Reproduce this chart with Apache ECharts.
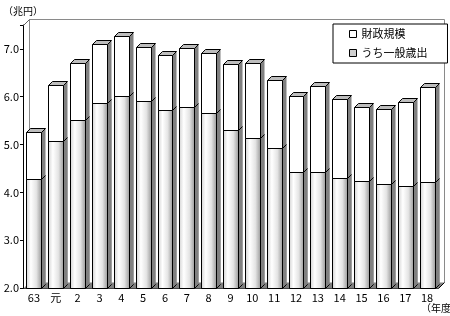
<!DOCTYPE html>
<html>
<head>
<meta charset="utf-8">
<script src="https://cdn.jsdelivr.net/npm/echarts@6/dist/echarts.min.js"></script>
<style>html,body{margin:0;padding:0;background:#fff}#c{width:450px;height:316px}</style>
</head>
<body>
<div id="c"></div>
<script>
const categories = ['63','元','2','3','4','5','6','7','8','9','10','11','12','13','14','15','16','17','18'];
const totalValues = [5.26,6.24,6.70,7.11,7.27,7.04,6.87,7.01,6.91,6.69,6.70,6.35,6.02,6.23,5.95,5.79,5.75,5.90,6.21];
const generalValues = [4.27,5.08,5.51,5.86,6.01,5.91,5.72,5.78,5.65,5.31,5.13,4.92,4.42,4.43,4.31,4.24,4.18,4.13,4.21];
const seriesNames = ['財政規模','うち一般歳出'];
const yMin = 2, yMax = 7.5, yStep = 1;

const FONT = '"Noto Sans CJK JP", "DejaVu Sans", sans-serif';
const chart = echarts.init(document.getElementById('c'), null, {renderer: 'canvas'});

const grad = new echarts.graphic.LinearGradient(0, 0, 1, 0, [
  {offset: 0, color: '#d2d2d2'},
  {offset: 0.3, color: '#ffffff'},
  {offset: 0.65, color: '#e4e4e4'},
  {offset: 1, color: '#969696'}
]);

function px(v) { return Math.round(v) + 0.5; }

function barShapes(api, value, fill, withTop) {
  const x = api.value(0);
  const topP = api.coord([x, value]);
  const baseP = api.coord([x, yMin]);
  const band = api.size([1, 0])[0];
  const w = band * 0.68;
  const d = 4;
  const xl = px(topP[0] - w / 2), xr = px(topP[0] + w / 2);
  const yt = px(topP[1]), yb = px(baseP[1]);
  const children = [];
  children.push({type: 'polygon', shape: {points: [[xr, yt], [xr + d, yt - d], [xr + d, yb - d], [xr, yb]]},
    style: {fill: '#808080', stroke: null}});
  if (withTop) {
    children.push({type: 'polygon', shape: {points: [[xl, yt], [xl + d, yt - d], [xr + d, yt - d], [xr, yt]]},
      style: {fill: '#bdbdbd', stroke: '#000', lineWidth: 1}});
  } else {
    children.push({type: 'line', shape: {x1: xr, y1: yt, x2: xr + d, y2: yt - d}, style: {stroke: '#000', lineWidth: 1}});
  }
  children.push({type: 'rect', shape: {x: xl, y: yt, width: xr - xl, height: yb - yt},
    style: {fill: fill, stroke: '#000', lineWidth: 1}});
  children.push({type: 'line', shape: {x1: xr, y1: yb, x2: xr + d, y2: yb - d}, style: {stroke: '#000', lineWidth: 1}});
  return {type: 'group', children: children};
}

const option = {
  animation: false,
  backgroundColor: '#fff',
  textStyle: {fontFamily: FONT},
  grid: {left: 21, right: 12, top: 25, bottom: 28, containLabel: false},
  legend: {
    orient: 'vertical', left: 333, top: 24,
    padding: [4, 20, 4, 16], itemGap: 7,
    itemWidth: 7, itemHeight: 7, icon: 'rect',
    borderColor: '#000', borderWidth: 1, backgroundColor: '#fff',
    textStyle: {fontSize: 11, color: '#000', lineHeight: 12, fontFamily: FONT},
    data: [
      {name: seriesNames[0], itemStyle: {color: '#fff', borderColor: '#000', borderWidth: 1}},
      {name: seriesNames[1], itemStyle: {color: '#cfcfcf', borderColor: '#000', borderWidth: 1}}
    ]
  },
  xAxis: {
    type: 'category', data: categories,
    axisLine: {lineStyle: {color: '#000', width: 1}},
    axisTick: {show: false},
    axisLabel: {color: '#000', fontSize: 11, margin: 4, interval: 0, fontFamily: FONT},
    splitLine: {show: false}
  },
  yAxis: {
    type: 'value', min: yMin, max: yMax, interval: yStep,
    name: '（兆円）', nameLocation: 'end', nameGap: 9,
    nameTextStyle: {color: '#000', fontSize: 10, fontFamily: FONT, align: 'center'},
    axisLine: {show: true, lineStyle: {color: '#000', width: 1}},
    axisTick: {show: true, length: 3, lineStyle: {color: '#000'}},
    axisLabel: {color: '#000', fontSize: 11, margin: 4, fontFamily: FONT,
      formatter: v => (v > 7.01 ? '' : v.toFixed(1))},
    splitLine: {show: false}
  },
  graphic: [
    {type: 'text', left: 421, top: 303, style: {text: '（年度）', fontSize: 10, fill: '#000', fontFamily: FONT}}
  ],
  series: [
    {
      type: 'custom', name: 'wall', silent: true, z: 1,
      data: [[0, yMin]],
      renderItem: function (params, api) {
        const band = api.size([1, 0])[0];
        const c0 = api.coord([0, yMin]);
        const cN = api.coord([categories.length - 1, yMax]);
        const L = px(c0[0] - band / 2), B = px(c0[1]);
        const R = px(cN[0] + band / 2), T = px(cN[1]);
        const d = 6;
        return {type: 'group', children: [
          {type: 'polygon', shape: {points: [[L, B], [R, B], [R + d, B - d], [L + d, B - d]]}, style: {fill: '#808080'}},
          {type: 'polyline', shape: {points: [[L + d, B - d], [L + d, T - d], [R + d, T - d], [R + d, B - d]]}, style: {stroke: '#8a8a8a', fill: null, lineWidth: 1}},
          {type: 'line', shape: {x1: L, y1: T, x2: L + d, y2: T - d}, style: {stroke: '#606060', lineWidth: 1}},
          {type: 'line', shape: {x1: R, y1: B, x2: R + d, y2: B - d}, style: {stroke: '#000', lineWidth: 1}}
        ]};
      }
    },
    {
      type: 'custom', name: seriesNames[0], z: 2,
      itemStyle: {color: '#fff'},
      data: totalValues.map((v, i) => [i, v]),
      renderItem: function (params, api) { return barShapes(api, api.value(1), '#ffffff', true); }
    },
    {
      type: 'custom', name: seriesNames[1], z: 3,
      itemStyle: {color: '#cfcfcf'},
      data: generalValues.map((v, i) => [i, v]),
      renderItem: function (params, api) { return barShapes(api, api.value(1), grad, false); }
    }
  ]
};
chart.setOption(option);
</script>
</body>
</html>
